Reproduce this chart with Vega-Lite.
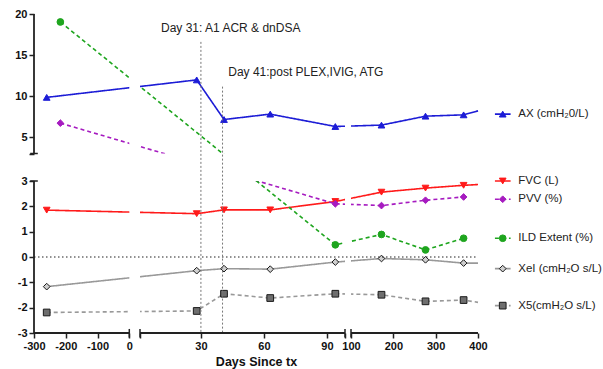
{
  "$schema": "https://vega.github.io/schema/vega-lite/v6.json",
  "width": 444,
  "height": 319,
  "autosize": {"type": "none"},
  "padding": {"left": 34, "top": 14, "right": 125, "bottom": 36},
  "config": {
    "view": {"stroke": null},
    "font": "Liberation Sans",
    "axis": {"grid": false}
  },
  "resolve": {"axis": {"x": "independent", "y": "independent"}},
  "datasets": {
    "series": [
      {"series": "AX", "day": -260, "value": 9.84},
      {"series": "AX", "day": 28, "value": 11.97},
      {"series": "AX", "day": 41, "value": 7.14},
      {"series": "AX", "day": 63, "value": 7.8},
      {"series": "AX", "day": 94, "value": 6.29},
      {"series": "AX", "day": 172, "value": 6.46},
      {"series": "AX", "day": 276, "value": 7.55},
      {"series": "AX", "day": 366, "value": 7.71},
      {"series": "AX", "day": 400, "value": 8.2},
      {"series": "FVC", "day": -260, "value": 1.85},
      {"series": "FVC", "day": 28, "value": 1.71},
      {"series": "FVC", "day": 41, "value": 1.86},
      {"series": "FVC", "day": 63, "value": 1.86},
      {"series": "FVC", "day": 94, "value": 2.19},
      {"series": "FVC", "day": 172, "value": 2.56},
      {"series": "FVC", "day": 276, "value": 2.72},
      {"series": "FVC", "day": 366, "value": 2.83},
      {"series": "FVC", "day": 400, "value": 2.86},
      {"series": "PVV", "day": -217, "value": 6.7},
      {"series": "PVV", "day": 94, "value": 2.1},
      {"series": "PVV", "day": 172, "value": 2.03},
      {"series": "PVV", "day": 276, "value": 2.24},
      {"series": "PVV", "day": 366, "value": 2.37},
      {"series": "ILD", "day": -217, "value": 19.03},
      {"series": "ILD", "day": 94, "value": 0.48},
      {"series": "ILD", "day": 172, "value": 0.89},
      {"series": "ILD", "day": 276, "value": 0.28},
      {"series": "ILD", "day": 366, "value": 0.74},
      {"series": "XeI", "day": -260, "value": -1.17},
      {"series": "XeI", "day": 28, "value": -0.54},
      {"series": "XeI", "day": 41, "value": -0.46},
      {"series": "XeI", "day": 63, "value": -0.48},
      {"series": "XeI", "day": 94, "value": -0.2},
      {"series": "XeI", "day": 172, "value": -0.06},
      {"series": "XeI", "day": 276, "value": -0.11},
      {"series": "XeI", "day": 366, "value": -0.24},
      {"series": "XeI", "day": 400, "value": -0.24},
      {"series": "X5", "day": -260, "value": -2.19},
      {"series": "X5", "day": 28, "value": -2.13},
      {"series": "X5", "day": 41, "value": -1.45},
      {"series": "X5", "day": 63, "value": -1.62},
      {"series": "X5", "day": 94, "value": -1.45},
      {"series": "X5", "day": 172, "value": -1.49},
      {"series": "X5", "day": 276, "value": -1.75},
      {"series": "X5", "day": 366, "value": -1.7},
      {"series": "X5", "day": 400, "value": -1.79}
    ],
    "legend": [
      {"series": "AX", "label": "AX (cmH₂0/L)", "value": 7.8},
      {"series": "FVC", "label": "FVC (L)", "value": 3.0},
      {"series": "PVV", "label": "PVV (%)", "value": 2.28},
      {"series": "ILD", "label": "ILD Extent (%)", "value": 0.74},
      {"series": "XeI", "label": "XeI (cmH₂O s/L)", "value": -0.46},
      {"series": "X5", "label": "X5(cmH₂O s/L)", "value": -1.92}
    ]
  },
  "layer": [
    {
      "data": {"name": "series"},
      "mark": {"type": "line", "strokeWidth": 1.6},
      "encoding": {
        "x": {
          "field": "day", "type": "quantitative",
          "scale": {"domain": [-300, 0, 1, 98.6, 100, 400], "range": [0, 95.3, 106, 311, 317, 444], "nice": false, "zero": false},
          "axis": {
            "values": [-300, -200, -100, 0, 1, 30, 60, 90, 98.6, 100, 200, 300, 400],
            "labelExpr": "(datum.value == 1 || datum.value == 98.6) ? '' : '' + datum.value",
            "domain": false, "tickSize": 5, "tickWidth": 1.5, "tickColor": "#222",
            "labelFont": "Liberation Sans", "labelFontSize": 11, "labelFontWeight": "bold", "labelColor": "#111",
            "labelPadding": 2, "labelOverlap": false, "labelFlush": false, "labelBound": false,
            "title": "Days Since tx", "titleFont": "Liberation Sans", "titleFontSize": 12.5, "titleFontWeight": "bold", "titleColor": "#111", "titlePadding": 4,
            "zindex": 1
          }
        },
        "y": {
          "field": "value", "type": "quantitative",
          "scale": {"domain": [-3, 3, 3.0001, 20], "range": [319, 167, 139.5, 0], "nice": false, "zero": false},
          "axis": {
            "values": [-3, -2, -1, 0, 1, 2, 3, 3.0001, 5, 10, 15, 20],
            "labelExpr": "(datum.value > 3 && datum.value < 3.01) ? '' : '' + datum.value",
            "domain": false, "tickSize": 5, "tickWidth": 1.5, "tickColor": "#222",
            "labelFont": "Liberation Sans", "labelFontSize": 11, "labelFontWeight": "bold", "labelColor": "#111",
            "labelPadding": 2, "labelOverlap": false, "labelFlush": false, "labelBound": false,
            "title": null,
            "zindex": 1
          }
        },
        "color": {
          "field": "series", "type": "nominal", "legend": null,
          "scale": {"domain": ["AX", "FVC", "PVV", "ILD", "XeI", "X5"], "range": ["#1c1cd6", "#ff1a1a", "#a61bc0", "#1ea51e", "#999999", "#999999"]}
        },
        "strokeDash": {
          "field": "series", "type": "nominal", "legend": null,
          "scale": {"domain": ["AX", "FVC", "PVV", "ILD", "XeI", "X5"], "range": [[1, 0], [1, 0], [4, 3], [4, 3], [1, 0], [4, 3]]}
        }
      }
    },
    {
      "data": {"name": "series"},
      "transform": [{"filter": "datum.day < 400"}],
      "mark": {"type": "point", "filled": true, "strokeWidth": 1, "opacity": 1},
      "encoding": {
        "x": {"field": "day", "type": "quantitative", "axis": null},
        "y": {"field": "value", "type": "quantitative", "axis": null},
        "shape": {
          "field": "series", "type": "nominal", "legend": null,
          "scale": {"domain": ["AX", "FVC", "PVV", "ILD", "XeI", "X5"], "range": ["triangle-up", "triangle-down", "diamond", "circle", "diamond", "square"]}
        },
        "fill": {
          "field": "series", "type": "nominal", "legend": null,
          "scale": {"domain": ["AX", "FVC", "PVV", "ILD", "XeI", "X5"], "range": ["#1c1cd6", "#ff1a1a", "#a61bc0", "#1ea51e", "#cfcfcf", "#6e6e6e"]}
        },
        "stroke": {
          "field": "series", "type": "nominal", "legend": null,
          "scale": {"domain": ["AX", "FVC", "PVV", "ILD", "XeI", "X5"], "range": ["#1c1cd6", "#ff1a1a", "#a61bc0", "#1ea51e", "#1a1a1a", "#1a1a1a"]}
        },
        "size": {
          "field": "series", "type": "nominal", "legend": null,
          "scale": {"domain": ["AX", "FVC", "PVV", "ILD", "XeI", "X5"], "range": [45, 45, 28, 35, 40, 60]}
        }
      }
    },
    {
      "data": {"values": [{"a": 0, "b": 1}, {"a": 98.6, "b": 100}]},
      "mark": {"type": "rect", "color": "white", "opacity": 1},
      "encoding": {
        "x": {"field": "a", "type": "quantitative", "axis": null},
        "x2": {"field": "b"},
        "y": {"datum": -3, "axis": null},
        "y2": {"datum": 20}
      }
    },
    {
      "data": {"values": [{}]},
      "mark": {"type": "rect", "color": "white", "opacity": 1},
      "encoding": {
        "x": {"datum": -300, "axis": null},
        "x2": {"datum": 400},
        "y": {"datum": 3, "axis": null},
        "y2": {"datum": 3.0001}
      }
    },
    {
      "data": {"values": [{}]},
      "mark": {"type": "rule", "color": "#222", "strokeWidth": 1.2, "strokeDash": [1.5, 2.5]},
      "encoding": {
        "x": {"datum": -300, "axis": null},
        "x2": {"datum": 400},
        "y": {"datum": 0, "axis": null}
      }
    },
    {
      "data": {"values": [{"d": 30, "top": 16.6}, {"d": 40.3, "top": 11.15}]},
      "mark": {"type": "rule", "color": "#777", "strokeWidth": 1, "strokeDash": [2, 2]},
      "encoding": {
        "x": {"field": "d", "type": "quantitative", "axis": null},
        "y": {"field": "top", "type": "quantitative", "axis": null},
        "y2": {"datum": -3}
      }
    },
    {
      "data": {"values": [{"a": -300, "b": 0}, {"a": 1, "b": 98.6}, {"a": 100, "b": 400}]},
      "mark": {"type": "rule", "color": "#222", "strokeWidth": 1.8},
      "encoding": {
        "x": {"field": "a", "type": "quantitative", "axis": null},
        "x2": {"field": "b"},
        "y": {"datum": -3, "axis": null}
      }
    },
    {
      "data": {"values": [{"a": -3, "b": 3}, {"a": 3.0001, "b": 20}]},
      "mark": {"type": "rule", "color": "#222", "strokeWidth": 1.8},
      "encoding": {
        "y": {"field": "a", "type": "quantitative", "axis": null},
        "y2": {"field": "b"},
        "x": {"datum": -300, "axis": null}
      }
    },
    {
      "data": {"values": [{"a": 0}, {"a": 1}, {"a": 98.6}, {"a": 100}]},
      "mark": {"type": "rule", "color": "#222", "strokeWidth": 1.5},
      "encoding": {
        "x": {"field": "a", "type": "quantitative", "axis": null},
        "y": {"datum": -3.18, "axis": null},
        "y2": {"datum": -2.84}
      }
    },
    {
      "data": {"values": [{"a": 3}, {"a": 3.0001}]},
      "mark": {"type": "rule", "color": "#222", "strokeWidth": 1.5},
      "encoding": {
        "y": {"field": "a", "type": "quantitative", "axis": null},
        "x": {"datum": -312, "axis": null},
        "x2": {"datum": -288}
      }
    },
    {
      "data": {"values": [{"text": "Day 31: A1 ACR & dnDSA", "day": 11, "value": 18.33}, {"text": "Day 41:post PLEX,IVIG, ATG", "day": 43, "value": 12.98}]},
      "mark": {"type": "text", "align": "left", "baseline": "middle", "fontSize": 12, "font": "Liberation Sans", "color": "#222"},
      "encoding": {
        "x": {"field": "day", "type": "quantitative", "axis": null},
        "y": {"field": "value", "type": "quantitative", "axis": null},
        "text": {"field": "text"}
      }
    },
    {
      "data": {"name": "legend"},
      "mark": {"type": "rule", "strokeWidth": 1.6},
      "encoding": {
        "x": {"datum": 440, "axis": null},
        "x2": {"datum": 477},
        "y": {"field": "value", "type": "quantitative", "axis": null},
        "color": {"field": "series", "type": "nominal", "legend": null},
        "strokeDash": {"field": "series", "type": "nominal", "legend": null}
      }
    },
    {
      "data": {"name": "legend"},
      "mark": {"type": "point", "filled": true, "strokeWidth": 1, "opacity": 1},
      "encoding": {
        "x": {"datum": 458.4, "axis": null},
        "y": {"field": "value", "type": "quantitative", "axis": null},
        "shape": {"field": "series", "type": "nominal", "legend": null},
        "fill": {"field": "series", "type": "nominal", "legend": null},
        "stroke": {"field": "series", "type": "nominal", "legend": null},
        "size": {"field": "series", "type": "nominal", "legend": null}
      }
    },
    {
      "data": {"name": "legend"},
      "mark": {"type": "text", "align": "left", "baseline": "middle", "fontSize": 11.5, "font": "Liberation Sans", "color": "#222"},
      "encoding": {
        "x": {"datum": 495, "axis": null},
        "y": {"field": "value", "type": "quantitative", "axis": null},
        "text": {"field": "label"}
      }
    }
  ]
}
